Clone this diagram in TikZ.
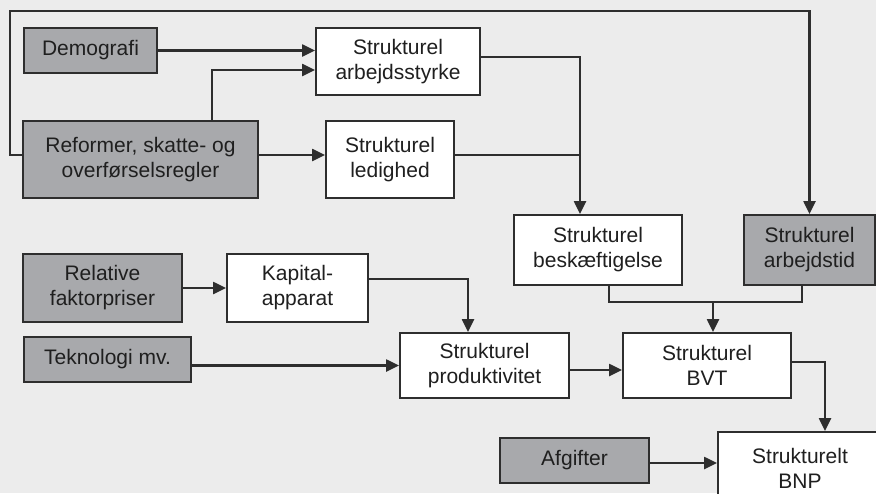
\documentclass[tikz,border=0pt]{standalone}
\usepackage{fontspec}
\setmainfont{Liberation Sans}
\usetikzlibrary{arrows.meta}
\definecolor{bggray}{HTML}{ECECEC}
\definecolor{boxgray}{HTML}{A8A9AC}
\definecolor{linegray}{HTML}{2E2E2E}

\begin{document}
\begin{tikzpicture}[x=1pt, y=-1pt, font=\fontsize{21}{25}\selectfont,
			box/.style={draw=linegray, line width=1.8pt, fill=white, align=center, inner sep=0pt, text=black!88},
			graybox/.style={box, fill=boxgray},
			arr/.style={draw=linegray, line width=2.2pt, -{Triangle[length=13pt,width=12pt]}},
			plain/.style={draw=linegray, line width=2.2pt}]
			\fill[bggray] (0,0) rectangle (876,493);
			\useasboundingbox (0,0) rectangle (876,493);
			% input nodes
			\node[graybox, minimum width=133pt, minimum height=45pt] (demo) at (90.5,50.5) {Demografi};
			\node[graybox, minimum width=235pt, minimum height=77pt] (reform) at (140.5,159.5) {Reformer, skatte- og\\overførselsregler};
			\node[graybox, minimum width=159pt, minimum height=68pt] (relativ) at (102.5,288) {Relative\\faktorpriser};
			\node[graybox, minimum width=167pt, minimum height=45pt] (tekno) at (107.5,359.5) {Teknologi mv.};
			\node[graybox, minimum width=131pt, minimum height=70pt] (tid) at (809.5,250) {Strukturel\\arbejdstid};
			\node[graybox, minimum width=149pt, minimum height=45pt] (afgift) at (574.5,460.5) {Afgifter};
			% structural nodes
			\node[box, minimum width=164pt, minimum height=67pt] (styrke) at (398,61.5) {Strukturel\\arbejdsstyrke};
			\node[box, minimum width=128pt, minimum height=77pt] (ledig) at (390,159.5) {Strukturel\\ledighed};
			\node[box, minimum width=168pt, minimum height=70pt] (beskaf) at (598,250) {Strukturel\\beskæftigelse};
			\node[box, minimum width=141pt, minimum height=68pt] (kapital) at (297.5,288) {Kapital-\\apparat};
			\node[box, minimum width=169pt, minimum height=65pt] (produkt) at (484.5,365.5) {Strukturel\\produktivitet};
			\node[box, minimum width=168pt, minimum height=65pt] (bvt) at (707,365.5) {Strukturel\\BVT};
			\node[box, minimum width=164pt, minimum height=72pt, text depth=0pt] (bnp) at (800,468) {Strukturelt\\BNP};
			% connection points
			\coordinate (loop) at (10,11);
			\coordinate (samle) at (580,155);
			\coordinate (merge) at (713,302);
			% connectors
			\draw[arr] (demo.east) -- (demo.east -| styrke.west);
			\draw[arr] ([xshift=71.5pt]reform.north) |- ([yshift=-8.5pt]styrke.west);
			\draw[arr] ([yshift=4.5pt]reform.east) -- ([yshift=4.5pt]ledig.west);
			\draw[arr] ([yshift=4.5pt]reform.west) -| (loop) -| (tid.north);
			\draw[plain] ([yshift=4.5pt]styrke.east) -| (samle);
			\draw[arr] ([yshift=4.5pt]ledig.east) -- (samle) -- (samle |- beskaf.north);
			\draw[plain] ([xshift=11pt]beskaf.south) |- (merge) -| ([xshift=-7.5pt]tid.south);
			\draw[arr] (merge) -- (merge |- bvt.north);
			\draw[arr] (relativ) -- (kapital);
			\draw[arr] ([yshift=9pt]kapital.east) -| ([xshift=-16.5pt]produkt.north);
			\draw[arr] (produkt.west -| tekno.east) -- (produkt.west);
			\draw[arr] ([yshift=-4.5pt]produkt.east) -- ([yshift=-4.5pt]bvt.west);
			\draw[arr] ([yshift=3.5pt]bvt.east) -| ([xshift=25pt]bnp.north);
			\draw[arr] ([yshift=-2.5pt]afgift.east) -- ([yshift=-2.5pt]afgift.east -| bnp.west);
		\end{tikzpicture}
\end{document}
